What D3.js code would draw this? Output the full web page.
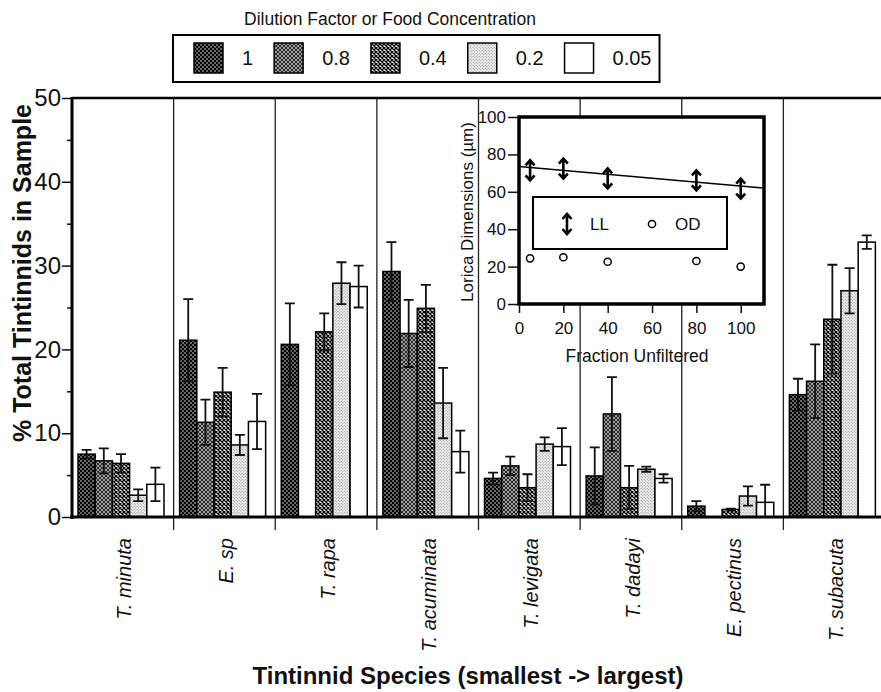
<!DOCTYPE html>
<html>
  <head>
    <meta charset="UTF-8" />
    <script src="https://cdnjs.cloudflare.com/ajax/libs/d3/7.8.5/d3.min.js"></script>
    <style>
      body {
        margin: 0;
        background: #fff;
      }
      text {
        font-family: "Liberation Sans", Arial, Helvetica, sans-serif;
        fill: #111;
      }
      .tick > line {
        stroke: #111;
        stroke-width: 1.5;
      }
      path.domain {
        stroke: none;
        fill: none;
      }
    </style>
  </head>
  <body>
    <svg id="chart" width="881" height="692"></svg>
    <script>
      // species, smallest -> largest
      let species = ["T. minuta", "E. sp", "T. rapa", "T. acuminata", "T. levigata", "T. dadayi", "E. pectinus", "T. subacuta"];
      let dilution = ["1", "0.8", "0.4", "0.2", "0.05"];

      // % of total tintinnids, one array per dilution factor (null = no bar)
      let pct1 = [7.5, 21.1, 20.6, 29.3, 4.6, 4.9, 1.3, 14.6];
      let pct08 = [6.7, 11.3, null, 21.9, 6.1, 12.3, null, 16.2];
      let pct04 = [6.4, 14.9, 22.1, 24.9, 3.5, 3.5, 0.9, 23.6];
      let pct02 = [2.6, 8.6, 27.9, 13.6, 8.7, 5.7, 2.5, 27.0];
      let pct005 = [3.9, 11.4, 27.5, 7.8, 8.4, 4.6, 1.75, 32.8];

      let err1 = [0.5, 4.9, 4.9, 3.5, 0.7, 3.4, 0.6, 1.9];
      let err08 = [1.5, 2.7, null, 4.0, 1.1, 4.4, null, 4.4];
      let err04 = [1.1, 2.9, 2.2, 2.8, 1.6, 2.6, 0.1, 6.5];
      let err02 = [0.7, 1.2, 2.5, 4.2, 0.8, 0.3, 1.15, 2.7];
      let err005 = [2.0, 3.3, 2.5, 2.5, 2.2, 0.5, 2.1, 0.8];

      let yTicks = [0, 10, 20, 30, 40, 50];
      let yMinor = [5, 15, 25, 35, 45];

      // inset: lorica dimensions vs fraction unfiltered
      let fracX = [5, 20, 40, 80, 100];
      let lorLL = [71.5, 72.4, 67.2, 66.1, 61.7];
      let lorOD = [24.4, 25.0, 22.6, 23.0, 20.0];
      let fitX = [0, 110];
      let fitY = [73.5, 62.0];
      let insetTicks = [0, 20, 40, 60, 80, 100];

      let seriesVals = [pct1, pct08, pct04, pct02, pct005];
      let seriesErr = [err1, err08, err04, err02, err005];
      let patIds = ["p1", "p08", "p04", "p02", "p005"];

      let svg = d3.select("#chart");

      // fill patterns for the dilution factors
      let defs = svg.append("defs");
      let pa = defs.append("pattern").attr("id", "p1").attr("patternUnits", "userSpaceOnUse").attr("width", 4).attr("height", 4);
      pa.append("rect").attr("width", 4).attr("height", 4).attr("fill", "#000");
      pa.append("circle").attr("cx", 1).attr("cy", 1).attr("r", 0.75).attr("fill", "#fff");
      pa.append("circle").attr("cx", 3).attr("cy", 3).attr("r", 0.75).attr("fill", "#fff");

      let pb = defs.append("pattern").attr("id", "p08").attr("patternUnits", "userSpaceOnUse").attr("width", 4).attr("height", 4);
      pb.append("rect").attr("width", 4).attr("height", 4).attr("fill", "#2a2a2a");
      pb.append("path").attr("d", "M0,0L4,4M4,0L0,4").attr("stroke", "#bbb").attr("stroke-width", 0.8);

      let pc = defs.append("pattern").attr("id", "p04").attr("patternUnits", "userSpaceOnUse").attr("width", 4).attr("height", 4);
      pc.append("rect").attr("width", 4).attr("height", 4).attr("fill", "#fff");
      pc.append("path").attr("d", "M0,0L4,4M4,0L0,4").attr("stroke", "#000").attr("stroke-width", 1.3);

      let pd = defs.append("pattern").attr("id", "p02").attr("patternUnits", "userSpaceOnUse").attr("width", 3).attr("height", 3);
      pd.append("rect").attr("width", 3).attr("height", 3).attr("fill", "#eee");
      pd.append("circle").attr("cx", 0.75).attr("cy", 0.75).attr("r", 0.6).attr("fill", "#888");
      pd.append("circle").attr("cx", 2.25).attr("cy", 2.25).attr("r", 0.6).attr("fill", "#888");

      defs.append("pattern").attr("id", "p005").attr("patternUnits", "userSpaceOnUse").attr("width", 4).attr("height", 4)
        .append("rect").attr("width", 4).attr("height", 4).attr("fill", "#fff");

      // main chart scales
      let xScale = d3.scaleBand().domain(species).range([72, 885]).padding(0);
      let xInner = d3.scaleBand().domain(dilution).range([6, 92]).padding(0);
      let yScale = d3.scaleLinear().domain([0, 50]).range([517, 98]);

      // dividers between species
      svg.append("g")
        .selectAll("line")
        .data(species.slice(1))
        .enter()
        .append("line")
        .attr("x1", d => xScale(d))
        .attr("x2", d => xScale(d))
        .attr("y1", yScale(50))
        .attr("y2", yScale(0) + 13)
        .attr("stroke", "#222")
        .attr("stroke-width", 1.3);

      // bars
      let rows = [];
      species.forEach((s, i) => {
        dilution.forEach((d, j) => {
          if (seriesVals[j][i] != null) {
            rows.push({ sp: s, dil: d, v: seriesVals[j][i], e: seriesErr[j][i], pat: patIds[j] });
          }
        });
      });

      let bars = svg.append("g");
      bars.selectAll("rect")
        .data(rows)
        .enter()
        .append("rect")
        .attr("x", d => xScale(d.sp) + xInner(d.dil))
        .attr("y", d => yScale(d.v))
        .attr("width", xInner.bandwidth())
        .attr("height", d => yScale(0) - yScale(d.v))
        .attr("fill", d => `url(#${d.pat})`)
        .attr("stroke", "#000")
        .attr("stroke-width", 1.5);

      // error bars
      let eb = svg.append("g").attr("stroke", "#111").attr("stroke-width", 1.8).attr("fill", "none");
      let cx = d => xScale(d.sp) + xInner(d.dil) + xInner.bandwidth() / 2;
      eb.selectAll("path")
        .data(rows)
        .enter()
        .append("path")
        .attr("d", d => {
          let x = cx(d), y1 = yScale(d.v + d.e), y0 = yScale(Math.max(0, d.v - d.e));
          return `M${x},${y0}L${x},${y1}M${x - 5},${y1}L${x + 5},${y1}M${x - 5},${y0}L${x + 5},${y0}`;
        });

      // y axis
      svg.append("g")
        .attr("transform", "translate(72,0)")
        .call(d3.axisLeft(yScale).tickValues(yTicks).tickSize(10).tickPadding(1))
        .selectAll("text")
        .style("font-size", "24px");
      svg.append("g")
        .attr("transform", "translate(72,0)")
        .call(d3.axisLeft(yScale).tickValues(yMinor).tickSize(5).tickFormat(""));

      // frame: left axis, bottom axis, top rule
      svg.append("line").attr("x1", 72).attr("x2", 72).attr("y1", yScale(50) - 1).attr("y2", yScale(0) + 2)
        .attr("stroke", "#000").attr("stroke-width", 3);
      svg.append("line").attr("x1", 70).attr("x2", 881).attr("y1", yScale(0)).attr("y2", yScale(0))
        .attr("stroke", "#000").attr("stroke-width", 3);
      svg.append("line").attr("x1", 72).attr("x2", 881).attr("y1", yScale(50)).attr("y2", yScale(50))
        .attr("stroke", "#000").attr("stroke-width", 2.5);

      // species labels
      svg.append("g")
        .selectAll("text")
        .data(species)
        .enter()
        .append("text")
        .attr("transform", d => `translate(${xScale(d) + xScale.bandwidth() / 2 + 1},538) rotate(-90)`)
        .attr("dy", "0.38em")
        .attr("text-anchor", "end")
        .style("font-style", "italic")
        .style("font-size", "20px")
        .text(d => d);

      // axis titles
      svg.append("text")
        .attr("x", 468)
        .attr("y", 684)
        .attr("text-anchor", "middle")
        .style("font-weight", "bold")
        .style("font-size", "24px")
        .text("Tintinnid Species (smallest -> largest)");

      svg.append("text")
        .attr("transform", "translate(31,273) rotate(-90)")
        .attr("text-anchor", "middle")
        .style("font-weight", "bold")
        .style("font-size", "25px")
        .text("% Total Tintinnids in Sample");

      // legend
      svg.append("text")
        .attr("x", 390)
        .attr("y", 25)
        .attr("text-anchor", "middle")
        .style("font-size", "17.5px")
        .text("Dilution Factor or Food Concentration");

      let legBox = svg.append("rect").attr("x", 173).attr("y", 35).attr("height", 47)
        .attr("fill", "#fff").attr("stroke", "#000").attr("stroke-width", 2);
      let lx = 194;
      dilution.forEach((d, j) => {
        svg.append("rect").attr("x", lx).attr("y", 43).attr("width", 29).attr("height", 30)
          .attr("fill", `url(#${patIds[j]})`).attr("stroke", "#000").attr("stroke-width", 1.5);
        let t = svg.append("text").attr("x", lx + 48).attr("y", 65).style("font-size", "20px").text(d);
        lx = lx + 48 + t.node().getComputedTextLength() + 21;
      });
      legBox.attr("width", lx - 21 + 8 - 173);

      // inset chart
      let ix = d3.scaleLinear().domain([0, 110.5]).range([519, 764]);
      let iy = d3.scaleLinear().domain([0, 100]).range([304, 117]);

      svg.append("rect").attr("x", 519).attr("y", 117).attr("width", 245).attr("height", 187)
        .attr("fill", "#fff").attr("stroke", "#000").attr("stroke-width", 3.5);

      let ixAxis = svg.append("g")
        .attr("transform", "translate(0,304)")
        .call(d3.axisBottom(ix).tickValues(insetTicks).tickSize(9).tickPadding(9));
      ixAxis.selectAll("text").style("font-size", "17px");

      let iyAxis = svg.append("g")
        .attr("transform", "translate(519,0)")
        .call(d3.axisLeft(iy).tickValues(insetTicks).tickSize(11).tickPadding(2));
      iyAxis.selectAll("text").style("font-size", "17px");

      svg.append("text")
        .attr("x", 637)
        .attr("y", 362)
        .attr("text-anchor", "middle")
        .style("font-size", "17.5px")
        .text("Fraction Unfiltered");

      svg.append("text")
        .attr("transform", "translate(473,212) rotate(-90)")
        .attr("text-anchor", "middle")
        .style("font-size", "17px")
        .text("Lorica Dimensions (\u00b5m)");

      // fitted line for LL
      let fitLine = d3.line().x(d => ix(d[0])).y(d => iy(d[1]));
      svg.append("path")
        .attr("d", fitLine(d3.zip(fitX, fitY)))
        .attr("stroke", "#000")
        .attr("stroke-width", 1.5)
        .attr("fill", "none");

      let arrowPath = "M0,-10L0,10M-4.5,-5L0,-10L4.5,-5M-4.5,5L0,10L4.5,5";

      svg.append("g")
        .selectAll("path")
        .data(d3.zip(fracX, lorLL))
        .enter()
        .append("path")
        .attr("transform", d => `translate(${ix(d[0])},${iy(d[1])})`)
        .attr("d", arrowPath)
        .attr("stroke", "#000")
        .attr("stroke-width", 2.6)
        .attr("fill", "none");

      svg.append("g")
        .selectAll("circle")
        .data(d3.zip(fracX, lorOD))
        .enter()
        .append("circle")
        .attr("cx", d => ix(d[0]))
        .attr("cy", d => iy(d[1]))
        .attr("r", 3.6)
        .attr("fill", "#fff")
        .attr("stroke", "#000")
        .attr("stroke-width", 1.5);

      // inset legend
      svg.append("rect").attr("x", 533).attr("y", 197).attr("width", 194).attr("height", 52)
        .attr("fill", "#fff").attr("stroke", "#000").attr("stroke-width", 2);
      svg.append("path").attr("transform", "translate(567,224)").attr("d", arrowPath)
        .attr("stroke", "#000").attr("stroke-width", 2.6).attr("fill", "none");
      svg.append("text").attr("x", 590).attr("y", 230).style("font-size", "17px").text("LL");
      svg.append("circle").attr("cx", 652).attr("cy", 224).attr("r", 3.6)
        .attr("fill", "#fff").attr("stroke", "#000").attr("stroke-width", 1.5);
      svg.append("text").attr("x", 675).attr("y", 230).style("font-size", "17px").text("OD");
    </script>
  </body>
</html>
